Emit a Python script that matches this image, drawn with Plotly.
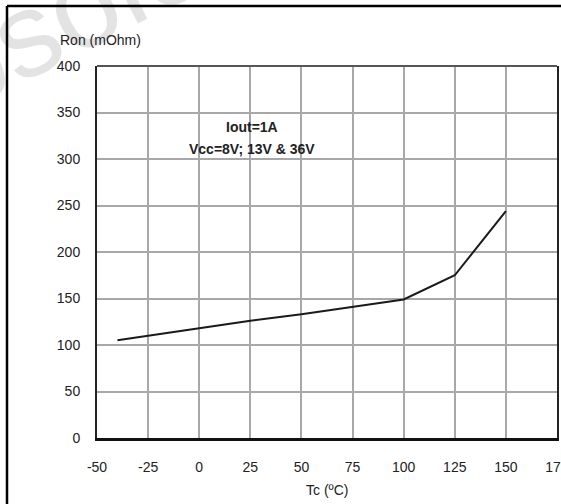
import plotly.graph_objects as go

# Data
tc = [-40, 0, 25, 50, 75, 100, 125, 150]
ron = [105, 118, 126, 133, 141, 149, 175, 244]

x_ticks = [-50, -25, 0, 25, 50, 75, 100, 125, 150, 175]
y_ticks = [0, 50, 100, 150, 200, 250, 300, 350, 400]

W, H = 561, 504
L, R, T, B = 97, 4, 66, 66

def px(x):
    return (x - L) / (W - L - R)

def py(y):
    return (H - B - y) / (H - T - B)

FONT = "Liberation Sans, Arial, sans-serif"

fig = go.Figure()
fig.add_trace(go.Scatter(x=tc, y=ron, mode="lines",
                         line=dict(color="#1a1a1a", width=2), showlegend=False))

fig.update_layout(
    width=W, height=H,
    margin=dict(l=L, r=R, t=T, b=B, autoexpand=False),
    paper_bgcolor="white", plot_bgcolor="white",
    font=dict(family=FONT, size=14, color="#222"),
    xaxis=dict(range=[-50, 175], tickvals=x_ticks, ticktext=[str(v) for v in x_ticks],
               showgrid=True, gridcolor="#a8a8a8", gridwidth=1.5,
               showline=True, linecolor="#111", linewidth=3,
               ticks="outside", ticklen=14, tickcolor="rgba(0,0,0,0)",
               ticklabeloverflow="allow",
               zeroline=False, automargin=False, tickfont=dict(size=14)),
    yaxis=dict(range=[0, 400], tickvals=y_ticks,
               showgrid=True, gridcolor="#a8a8a8", gridwidth=1.5,
               showline=True, linecolor="#222", linewidth=2, mirror=True,
               ticks="outside", ticklen=12, tickcolor="rgba(0,0,0,0)",
               zeroline=False, automargin=False, tickfont=dict(size=14)),
    shapes=[
        dict(type="line", xref="paper", yref="paper", x0=0, x1=1, y0=1, y1=1,
             line=dict(color="#555", width=2)),
        dict(type="line", xref="paper", yref="paper", x0=px(7), x1=px(600), y0=py(6), y1=py(6),
             line=dict(color="black", width=2.5), layer="above"),
        dict(type="line", xref="paper", yref="paper", x0=px(7), x1=px(7), y0=py(6), y1=py(600),
             line=dict(color="black", width=2.5), layer="above"),
    ],
    annotations=[
        dict(text="obsolete", xref="paper", yref="paper", x=px(82), y=py(5),
             xanchor="center", yanchor="middle",
             showarrow=False, textangle=-27,
             font=dict(size=120, color="rgba(0,0,0,0.11)", family=FONT)),
        dict(text="Ron (mOhm)", xref="paper", yref="paper", x=px(58), y=py(40),
             xanchor="left", yanchor="middle", showarrow=False, font=dict(size=14)),
        dict(text="Tc (ºC)", xref="paper", yref="paper", x=px(327), y=py(490),
             xanchor="center", yanchor="middle", showarrow=False, font=dict(size=14)),
        dict(text="<b>Iout=1A</b>", xref="paper", yref="paper", x=px(252), y=py(127),
             xanchor="center", yanchor="middle", showarrow=False, font=dict(size=14)),
        dict(text="<b>Vcc=8V; 13V &amp; 36V</b>", xref="paper", yref="paper", x=px(252), y=py(149),
             xanchor="center", yanchor="middle", showarrow=False, font=dict(size=14)),
    ],
)

fig.write_html("out.html", config={"displayModeBar": False},
               post_script="document.body.style.margin='0';document.body.style.overflow='hidden';")
